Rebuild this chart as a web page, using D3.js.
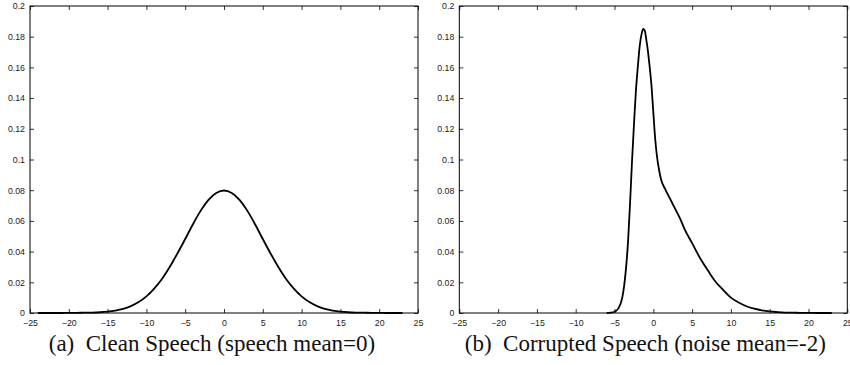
<!DOCTYPE html>
<html>
<head>
<meta charset="utf-8">
<script src="https://cdn.jsdelivr.net/npm/d3@7"></script>
<style>
  body { margin: 0; background: #fff; }
  svg { display: block; }
</style>
</head>
<body>
<div id="chart"></div>
<script>
"use strict";

// Size of SVG
const w = 850;
const h = 365;

// Tick values shared by both panels
const xTicks = [-25, -20, -15, -10, -5, 0, 5, 10, 15, 20, 25];
const yTicks = [0, 0.02, 0.04, 0.06, 0.08, 0.1, 0.12, 0.14, 0.16, 0.18, 0.2];

// (a) clean speech
const cleanX = [-24, -23, -22, -21, -20, -19, -18, -17, -16, -15, -14, -13, -12, -11, -10, -9, -8, -7, -6, -5, -4, -3, -2, -1, 0,
                1, 2, 3, 4, 5, 6, 7, 8, 9, 10, 11, 12, 13, 14, 15, 16, 17, 18, 19, 20, 21, 22, 23];
const cleanY = [0, 0, 0, 0, 0.0001, 0.0001, 0.0002, 0.0003, 0.0005, 0.0009, 0.0016, 0.0027, 0.0045, 0.0071, 0.0108, 0.0159, 0.0222, 0.0300, 0.0388, 0.0482, 0.0578, 0.0667, 0.0737, 0.0782, 0.0798,
                0.0782, 0.0737, 0.0667, 0.0578, 0.0482, 0.0388, 0.0300, 0.0222, 0.0159, 0.0108, 0.0071, 0.0045, 0.0027, 0.0016, 0.0009, 0.0005, 0.0003, 0.0002, 0.0001, 0.0001, 0, 0, 0];

// (b) corrupted speech
const noisyX = [-6, -5.5, -5, -4.5, -4, -3.75, -3.5, -3.25, -3, -2.75, -2.5, -2.25, -2, -1.75, -1.5, -1.3, -1.1, -0.9, -0.7, -0.5, -0.25, 0, 0.25, 0.5, 0.75,
                1, 1.5, 2, 2.5, 3, 3.5, 4, 5, 6, 7, 8, 9, 10, 11, 12, 13, 14, 15, 16, 17, 18, 19, 20, 21, 22, 23];
const noisyY = [0, 0.0002, 0.0008, 0.003, 0.010, 0.018, 0.030, 0.047, 0.071, 0.098, 0.122, 0.144, 0.160, 0.174, 0.182, 0.185, 0.184, 0.178, 0.171, 0.162, 0.149, 0.131, 0.113, 0.101, 0.093,
                0.087, 0.081, 0.076, 0.071, 0.066, 0.061, 0.055, 0.0455, 0.036, 0.028, 0.0205, 0.015, 0.0100, 0.0068, 0.0044, 0.0028, 0.0017, 0.0010, 0.0006, 0.0003, 0.0002, 0.0001, 0.0001, 0, 0, 0];

const captions = ["(a)\u2002Clean Speech (speech mean=0)", "(b)\u2002Corrupted Speech (noise mean=-2)"];

const svg = d3.select("#chart")
	.append("svg")
	.attr("width", w)
	.attr("height", h);

// Draw one matlab-style panel
function drawPanel(left, xs, ys, caption, capShift) {
	const pw = 388, top = 6, bottom = 313;
	const x = d3.scaleLinear().domain([-25, 25]).range([left, left + pw]);
	const y = d3.scaleLinear().domain([0, 0.2]).range([bottom, top]);
	const g = svg.append("g");
	const tl = 4; // tick length (inward)

	// Ticks on all four sides
	g.append("g")
		.attr("transform", `translate(0,${bottom})`)
		.call(d3.axisBottom(x).tickValues(xTicks).tickSize(-tl).tickPadding(7).tickFormat(d3.format("")));
	g.append("g")
		.attr("transform", `translate(0,${top})`)
		.call(d3.axisTop(x).tickValues(xTicks).tickSize(-tl).tickFormat(""));
	g.append("g")
		.attr("transform", `translate(${left},0)`)
		.call(d3.axisLeft(y).tickValues(yTicks).tickSize(-tl).tickPadding(5).tickFormat(d => d === 0 ? "0" : String(+d.toFixed(2))));
	g.append("g")
		.attr("transform", `translate(${left + pw},0)`)
		.call(d3.axisRight(y).tickValues(yTicks).tickSize(-tl).tickFormat(""));

	g.selectAll(".domain").remove();
	g.selectAll(".tick line").attr("stroke", "#000").attr("stroke-width", 0.8);
	g.selectAll(".tick text")
		.attr("fill", "#222")
		.style("font-family", "'Liberation Sans', Arial, sans-serif")
		.style("font-size", "8.8px");

	// Frame
	g.append("rect")
		.attr("x", left)
		.attr("y", top)
		.attr("width", pw)
		.attr("height", bottom - top)
		.attr("fill", "none")
		.attr("stroke", "#000")
		.attr("stroke-width", 1);

	// Curve
	const pts = xs.map((v, i) => [v, ys[i]]);
	g.append("path")
		.datum(pts)
		.attr("fill", "none")
		.attr("stroke", "#000")
		.attr("stroke-width", 1.8)
		.attr("stroke-linejoin", "round")
		.attr("d", d3.line().x(d => x(d[0])).y(d => y(d[1])).curve(d3.curveMonotoneX));

	// Caption
	g.append("text")
		.attr("x", left + pw / 2 + capShift)
		.attr("y", 351)
		.attr("text-anchor", "middle")
		.attr("fill", "#111")
		.style("font-family", "'Liberation Serif', 'Times New Roman', serif")
		.style("font-size", "23px")
		.text(caption);
}

drawPanel(30, cleanX, cleanY, captions[0], -12);
drawPanel(459.3, noisyX, noisyY, captions[1], -8);
</script>
</body>
</html>
